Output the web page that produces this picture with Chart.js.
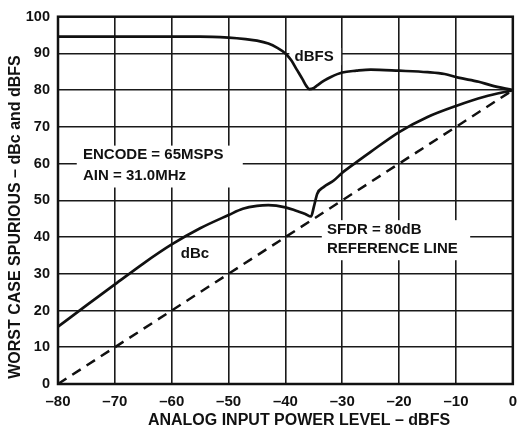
<!DOCTYPE html>
<html>
<head>
<meta charset="utf-8">
<script src="https://cdn.jsdelivr.net/npm/chart.js@4.4.1/dist/chart.umd.min.js"></script>
<style>
  body { margin: 0; background: #fff; }
  #wrap { width: 526px; height: 428px; }
</style>
</head>
<body>
<div id="wrap"><canvas id="chart" width="526" height="428"></canvas></div>
<script>
// values
const dbfsX = [-80, -65, -55, -50, -47, -45, -43, -41.5, -40, -39, -38, -37, -36.3, -35.8, -35, -34.4, -33.2, -32, -30, -27.5, -25, -20, -15, -12, -9.6, -6, -3.8, 0];
const dbfsY = [94.6, 94.6, 94.6, 94.3, 93.9, 93.5, 92.7, 91.6, 90.0, 88.2, 85.6, 83.0, 81.1, 80.3, 80.6, 81.3, 82.6, 83.6, 84.8, 85.3, 85.6, 85.3, 84.9, 84.4, 83.4, 82.3, 81.3, 80.0];

const dbcX = [-80, -75, -70, -65, -60, -55, -50, -47.5, -45, -43, -40, -38, -36.5, -35.5, -35.0, -34.4, -33.3, -31.5, -30, -27.5, -25, -20, -15, -10, -5, 0];
const dbcY = [15.6, 21.4, 27.1, 32.8, 38.0, 42.4, 46.0, 47.7, 48.5, 48.7, 48.1, 47.1, 46.3, 45.6, 48.2, 51.8, 53.6, 55.4, 57.5, 60.4, 63.2, 68.6, 72.7, 75.7, 78.2, 80.0];

const refX = [-80, 0];
const refY = [0, 80];

const xTickValues = [-80, -70, -60, -50, -40, -30, -20, -10, 0];

const xTitle = "ANALOG INPUT POWER LEVEL \u2013 dBFS";
const yTitle = "WORST CASE SPURIOUS \u2013 dBc and dBFS";

const FONT = "'Liberation Sans', Arial, Helvetica, sans-serif";
const INK = "#111";

function pts(xs, ys) {
  return xs.map((x, i) => ({ x: x, y: ys[i] }));
}

function dash(v) {
  return v < 0 ? "\u2013" + Math.abs(v) : String(v);
}

// text labels on the plot, boxes in data units (white background over the grid)
const notes = [
  { box: [-76.7, 64.9, -47.5, 53.5], lines: [["ENCODE = 65MSPS", -75.6, 62.5], ["AIN = 31.0MHz", -75.6, 56.8]] },
  { box: [-39.3, 91.5, -30.2, 86.8], lines: [["dBFS", -38.4, 89.1]] },
  { box: null, lines: [["dBc", -58.4, 35.3]] },
  { box: [-33.6, 44.6, -7.5, 33.7], lines: [["SFDR = 80dB", -32.7, 42.1], ["REFERENCE LINE", -32.7, 36.7]] },
];

const notesPlugin = {
  id: "notes",
  beforeDatasetsDraw(chart) {
    const { ctx, scales } = chart;
    const sx = scales.x, sy = scales.y;
    ctx.save();
    notes.forEach((n) => {
      if (n.box) {
        const x0 = sx.getPixelForValue(n.box[0]);
        const y0 = sy.getPixelForValue(n.box[1]);
        const x1 = sx.getPixelForValue(n.box[2]);
        const y1 = sy.getPixelForValue(n.box[3]);
        ctx.fillStyle = "#fff";
        ctx.fillRect(x0, y0, x1 - x0, y1 - y0);
      }
      ctx.fillStyle = INK;
      ctx.font = "bold 15px " + FONT;
      ctx.textAlign = "left";
      ctx.textBaseline = "middle";
      n.lines.forEach((l) => {
        ctx.fillText(l[0], sx.getPixelForValue(l[1]), sy.getPixelForValue(l[2]));
      });
    });
    ctx.restore();
  },
  afterDatasetsDraw(chart) {
    const { ctx, chartArea } = chart;
    ctx.save();
    ctx.strokeStyle = INK;
    ctx.lineWidth = 2.5;
    ctx.strokeRect(chartArea.left, chartArea.top, chartArea.right - chartArea.left, chartArea.bottom - chartArea.top);
    // axis titles
    ctx.fillStyle = INK;
    ctx.font = "bold 16px " + FONT;
    ctx.textAlign = "center";
    ctx.textBaseline = "middle";
    ctx.fillText(xTitle, 299, 421);
    ctx.translate(16, 217);
    ctx.rotate(-Math.PI / 2);
    ctx.fillText(yTitle, 0, 0);
    ctx.restore();
  },
};

const ctx = document.getElementById("chart").getContext("2d");

new Chart(ctx, {
  type: "line",
  data: {
    datasets: [
      {
        label: "dBFS",
        data: pts(dbfsX, dbfsY),
        borderColor: INK,
        borderWidth: 2.7,
        pointRadius: 0,
        cubicInterpolationMode: "monotone",
        fill: false,
      },
      {
        label: "dBc",
        data: pts(dbcX, dbcY),
        borderColor: INK,
        borderWidth: 2.7,
        pointRadius: 0,
        cubicInterpolationMode: "monotone",
        fill: false,
      },
      {
        label: "reference",
        data: pts(refX, refY),
        borderColor: INK,
        borderWidth: 2.5,
        borderDash: [10, 7],
        pointRadius: 0,
        tension: 0,
        fill: false,
      },
    ],
  },
  options: {
    responsive: false,
    animation: false,
    layout: { padding: { top: 16, right: 8, left: 0, bottom: 0 } },
    plugins: {
      legend: { display: false },
      tooltip: { enabled: false },
    },
    scales: {
      x: {
        type: "linear",
        min: -80,
        max: 0,
        afterBuildTicks: (s) => {
          s.ticks = xTickValues.map((v) => ({ value: v }));
        },
        ticks: {
          color: INK,
          font: { family: FONT, size: 15, weight: "bold" },
          padding: 9,
          maxRotation: 0,
          callback: (v) => dash(v),
        },
        grid: { color: "#1a1a1a", lineWidth: 1.6, drawTicks: false },
        border: { display: false },
        afterFit: (s) => {
          s.height = 44;
        },
      },
      y: {
        type: "linear",
        min: 0,
        max: 100,
        ticks: {
          stepSize: 10,
          color: INK,
          font: { family: FONT, size: 14.5, weight: "bold" },
          padding: 8,
        },
        grid: { color: "#1a1a1a", lineWidth: 1.6, drawTicks: false },
        border: { display: false },
        afterFit: (s) => {
          s.width = 58;
        },
      },
    },
  },
  plugins: [notesPlugin],
});
</script>
</body>
</html>
